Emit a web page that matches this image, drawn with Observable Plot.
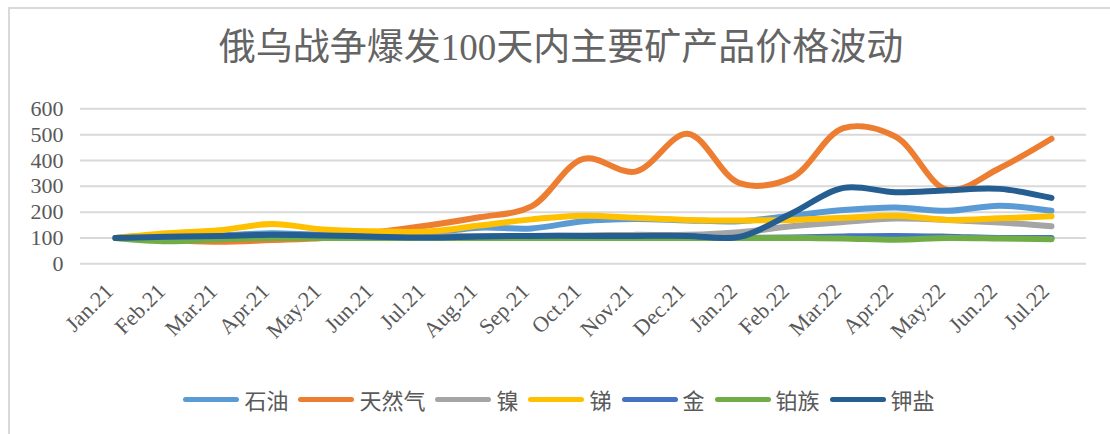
<!DOCTYPE html>
<html>
<head>
<meta charset="utf-8">
<script src="https://cdn.jsdelivr.net/npm/d3@7"></script>
<script src="https://cdn.jsdelivr.net/npm/@observablehq/plot@0.6"></script>
<style>
  html, body { margin: 0; padding: 0; background: #fff; overflow: hidden; }
  #wrap { position: relative; width: 1110px; height: 434px; overflow: hidden; }
  #border { position: absolute; left: 8px; top: 7px; width: 1120px; height: 440px; border: 2px solid #d9d9d9; box-sizing: border-box; }
  #title { position: absolute; left: 0; top: 24px; width: 1122px; text-align: center;
    font-family: "Liberation Serif", "Noto Sans CJK SC", serif; font-size: 37px; color: #646464; line-height: 48px; }
  #chart { position: absolute; left: 0; top: 0; }
  #legend { position: absolute; left: 0; top: 383px; width: 1118px; display: flex; justify-content: center; align-items: center;
    font-family: "Noto Sans CJK SC", sans-serif; font-size: 22px; color: #595959; }
  .item { display: flex; align-items: center; margin: 0 5px; }
  .sw { display: inline-block; width: 56px; height: 5px; border-radius: 3px; margin-right: 5px; }
</style>
</head>
<body>
<div id="wrap">
  <div id="border"></div>
  <div id="chart"></div>
  <div id="title">俄乌战争爆发100天内主要矿产品价格波动</div>
  <div id="legend"></div>
</div>
<script>
const months = ["Jan.21","Feb.21","Mar.21","Apr.21","May.21","Jun.21","Jul.21","Aug.21","Sep.21","Oct.21","Nov.21","Dec.21","Jan.22","Feb.22","Mar.22","Apr.22","May.22","Jun.22","Jul.22"];
const yTicks = [0, 100, 200, 300, 400, 500, 600];

const seriesNames = ["石油","天然气","镍","锑","金","铂族","钾盐"];
const seriesColors = ["#5b9bd5","#ed7d31","#a5a5a5","#ffc000","#4472c4","#70ad47","#255e91"];

const oil      = [100,112,110,118,112,115,120,140,137,165,173,168,165,186,208,218,205,225,205];
const gas      = [100,92,85,92,100,122,148,180,222,406,357,503,312,333,525,492,286,370,484];
const nickel   = [100,105,105,108,108,110,108,108,108,110,112,112,122,145,162,175,170,160,145];
const antimony = [100,118,130,154,133,126,125,148,172,186,178,170,168,170,178,186,170,176,184];
const gold     = [100,100,100,100,100,100,100,100,100,100,100,100,100,102,106,108,105,100,100];
const pgm      = [100,87,95,100,100,100,100,100,100,100,100,100,100,100,98,93,100,98,95];
const potash   = [100,105,108,112,110,105,102,106,108,108,108,108,104,195,294,277,285,290,255];

const seriesValues = [oil, gas, nickel, antimony, gold, pgm, potash];

const lineMarks = seriesValues.map((vals, i) =>
  Plot.line(months.map((m, j) => ({month: m, value: vals[j]})), {
    x: "month", y: "value", stroke: seriesColors[i], strokeWidth: 6,
    strokeLinecap: "round", strokeLinejoin: "round", curve: "catmull-rom"
  })
);

const chart = Plot.plot({
  width: 1110,
  height: 434,
  marginLeft: 80,
  marginRight: 24,
  marginTop: 108.3,
  marginBottom: 170.7,
  x: {type: "point", domain: months, padding: 0.5, label: null},
  y: {domain: [0, 600], label: null},
  style: {fontFamily: "Liberation Serif, serif", color: "#595959", background: "transparent"},
  marks: [
    Plot.gridY(yTicks, {stroke: "#d9d9d9", strokeOpacity: 1, strokeWidth: 2}),
    Plot.axisY(yTicks, {tickSize: 0, tickPadding: 17, fontSize: 22, label: null, fill: "#595959"}),
    Plot.axisX({tickRotate: -45, tickSize: 0, tickPadding: 24, dx: -6, fontSize: 22, label: null, fill: "#595959"}),
    ...lineMarks
  ]
});
document.getElementById("chart").appendChild(chart);

const legend = document.getElementById("legend");
seriesNames.forEach((name, i) => {
  const item = document.createElement("div");
  item.className = "item";
  const sw = document.createElement("span");
  sw.className = "sw";
  sw.style.background = seriesColors[i];
  const label = document.createElement("span");
  label.textContent = name;
  item.appendChild(sw);
  item.appendChild(label);
  legend.appendChild(item);
});
</script>
</body>
</html>
